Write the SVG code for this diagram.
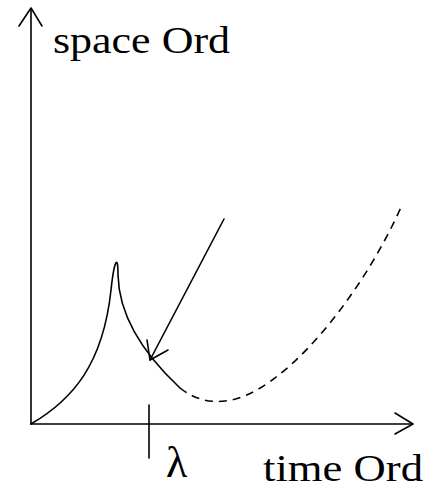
<svg xmlns="http://www.w3.org/2000/svg" width="433" height="495" viewBox="0 0 433 495">
<style>
.ln{fill:none;stroke:#000;stroke-width:1.6;stroke-linecap:round;stroke-linejoin:round}
.dash{stroke-dasharray:8 6;stroke-linecap:butt}
.t{font-family:"Liberation Serif","DejaVu Serif",serif;fill:#000}
</style>
<rect width="433" height="495" fill="#fff"/>
<g id="axes">
<path class="ln" d="M31,424 V9"/>
<path class="ln" d="M19,26 L31,8 L42,26"/>
<path class="ln" d="M31,424 H412"/>
<path class="ln" d="M395,413 L413,424 L395,434"/>
<path class="ln" d="M149,405 V458"/>
</g>
<g id="curve">
<path class="ln" d="M31,424 C72,400 103,365 111,290 C114,262 118,252 118,275 C119,320 150,360 180,388"/>
<path class="ln dash" d="M180,388 Q200,404 225,401 C280,396 360,300 402,205"/>
</g>
<g id="connectors">
<path class="ln" d="M224,219 L150,360"/>
<path class="ln" d="M147,340 L150,360 L168,350"/>
</g>
<g id="labels">
<text class="t" x="53" y="53" font-size="38" textLength="177" lengthAdjust="spacingAndGlyphs">space Ord</text>
<text class="t" x="263" y="481" font-size="38" textLength="160" lengthAdjust="spacingAndGlyphs">time Ord</text>
<text class="t" x="166" y="477" font-size="44">λ</text>
</g>
</svg>
